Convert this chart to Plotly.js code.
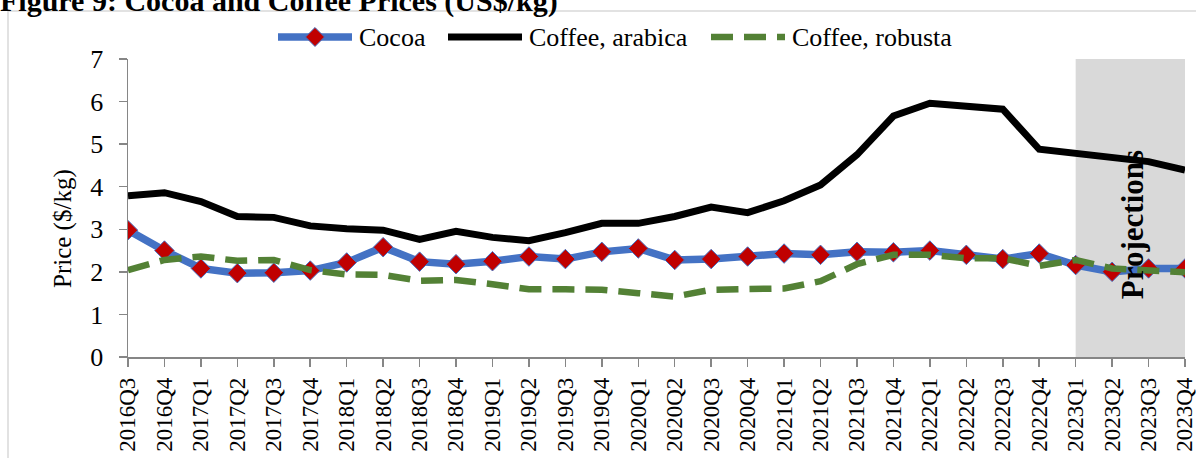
<!DOCTYPE html>
<html>
<head>
<meta charset="utf-8">
<script src="https://cdn.plot.ly/plotly-3.0.1.min.js"></script>
<style>
  html, body { margin: 0; padding: 0; background: #ffffff; overflow: hidden; }
  #chart { width: 1196px; height: 458px; }
</style>
</head>
<body>
<div id="chart"></div>
<script>
// Quarterly prices, US$ per kg
const quarters = [
  '2016Q3','2016Q4',
  '2017Q1','2017Q2','2017Q3','2017Q4',
  '2018Q1','2018Q2','2018Q3','2018Q4',
  '2019Q1','2019Q2','2019Q3','2019Q4',
  '2020Q1','2020Q2','2020Q3','2020Q4',
  '2021Q1','2021Q2','2021Q3','2021Q4',
  '2022Q1','2022Q2','2022Q3','2022Q4',
  '2023Q1','2023Q2','2023Q3','2023Q4'
];

const cocoa = [
  2.98, 2.50,
  2.08, 1.97, 1.98, 2.03,
  2.22, 2.58, 2.24, 2.18,
  2.25, 2.36, 2.30, 2.47,
  2.55, 2.28, 2.30, 2.36,
  2.43, 2.40, 2.47, 2.46,
  2.50, 2.40, 2.30, 2.43,
  2.16, 2.00, 2.08, 2.08
];

const arabica = [
  3.79, 3.86,
  3.65, 3.30, 3.28, 3.08,
  3.01, 2.98, 2.76, 2.95,
  2.81, 2.73, 2.92, 3.14,
  3.14, 3.30, 3.52, 3.39,
  3.67, 4.04, 4.75, 5.66,
  5.96, 5.88, 5.82, 4.88,
  4.78, 4.67, 4.59, 4.39
];

const robusta = [
  2.04, 2.28,
  2.36, 2.26, 2.28, 2.04,
  1.94, 1.93, 1.79, 1.81,
  1.71, 1.59, 1.59, 1.58,
  1.50, 1.42, 1.58, 1.58,
  1.61, 1.78, 2.18, 2.40,
  2.40, 2.32, 2.32, 2.14,
  2.28, 2.08, 2.02, 1.99
];

const seriesNames = ['Cocoa', 'Coffee, arabica', 'Coffee, robusta'];
const projectionStart = '2023Q1';
const projectionLabel = 'Projections';
const chartTitle = 'Figure 9: Cocoa and Coffee Prices (US$/kg)';
const yTitle = 'Price ($/kg)';

const FONT = 'Liberation Serif, Times New Roman, serif';
const BLUE = '#4472c4';
const RED = '#c00000';
const GREEN = '#538135';
const AXIS = '#868686';

// Plot-area geometry in pixels
const W = 1196, H = 458;
const M = { l: 128, r: 11, t: 59, b: 101 };
const PW = W - M.l - M.r, PH = H - M.t - M.b;
const px = x => (x - M.l) / PW;          // pixel x -> paper x
const py = y => (H - M.b - y) / PH;      // pixel y -> paper y

const traces = [
  {
    x: quarters, y: cocoa, name: seriesNames[0], type: 'scatter', mode: 'lines+markers',
    line: { color: BLUE, width: 7.5 },
    marker: { symbol: 'diamond', size: 15, color: RED, line: { color: BLUE, width: 1 } },
    showlegend: false
  },
  {
    x: quarters, y: arabica, name: seriesNames[1], type: 'scatter', mode: 'lines',
    line: { color: '#000000', width: 7 },
    showlegend: false
  },
  {
    x: quarters, y: robusta, name: seriesNames[2], type: 'scatter', mode: 'lines',
    line: { color: GREEN, width: 6.5, dash: '22px,11px' },
    showlegend: false
  }
];

const pStart = quarters.indexOf(projectionStart);
const pEnd = quarters.length - 1;

// Legend row drawn by hand: long line samples followed by labels
const legendY = py(37);
const legendItems = [
  { x0: 278, x1: 352, tx: 357, color: BLUE, dash: 'solid', width: 7.5 },
  { x0: 448, x1: 522, tx: 527, color: '#000000', dash: 'solid', width: 7 },
  { x0: 711, x1: 785, tx: 790, color: GREEN, dash: '22px,11px', width: 6.5 }
];

const shapes = [
  // outer frame
  { type: 'rect', xref: 'paper', yref: 'paper', layer: 'below',
    x0: px(8), x1: px(1200), y0: py(475), y1: py(11),
    line: { color: '#d9d9d9', width: 1.5 }, fillcolor: 'rgba(0,0,0,0)' },
  // projection band
  { type: 'rect', xref: 'x', yref: 'paper', layer: 'below',
    x0: pStart, x1: pEnd, y0: 0, y1: 1,
    line: { width: 0 }, fillcolor: '#d9d9d9' }
];

legendItems.forEach(it => {
  shapes.push({ type: 'line', xref: 'paper', yref: 'paper',
    x0: px(it.x0), x1: px(it.x1), y0: legendY, y1: legendY,
    line: { color: it.color, width: it.width, dash: it.dash } });
});

// diamond marker sample on the cocoa legend line
(function () {
  const cx = 315, cy = 37, r = 9.5;
  const pts = [[cx, cy - r], [cx + r, cy], [cx, cy + r], [cx - r, cy]]
    .map(p => px(p[0]).toFixed(5) + ',' + py(p[1]).toFixed(5));
  shapes.push({ type: 'path', xref: 'paper', yref: 'paper',
    path: 'M' + pts.join('L') + 'Z',
    fillcolor: RED, line: { color: BLUE, width: 1 } });
})();

const annotations = legendItems.map((it, i) => ({
  xref: 'paper', yref: 'paper', x: px(it.tx), y: legendY,
  xanchor: 'left', yanchor: 'middle', showarrow: false,
  text: seriesNames[i], font: { family: FONT, size: 26, color: '#000000' }
}));

// band label
annotations.push({
  xref: 'x', yref: 'paper', x: (pStart + pEnd) / 2 + 0.05, y: py(225),
  xanchor: 'center', yanchor: 'middle', showarrow: false, textangle: -90,
  text: '<b>' + projectionLabel + '</b>',
  font: { family: FONT, size: 31, color: '#000000' }
});

// y-axis title
annotations.push({
  xref: 'paper', yref: 'paper', x: px(63), y: py(229),
  xanchor: 'center', yanchor: 'middle', showarrow: false, textangle: -90,
  text: yTitle, font: { family: FONT, size: 25, color: '#000000' }
});

const layout = {
  width: W, height: H,
  margin: M,
  paper_bgcolor: '#ffffff', plot_bgcolor: 'rgba(0,0,0,0)',
  showlegend: false,
  title: {
    text: '<b>' + chartTitle + '</b>',
    font: { family: FONT, size: 30, color: '#000000' },
    xref: 'container', yref: 'container', x: 0, xanchor: 'left',
    y: 1.0, yanchor: 'middle', pad: { t: 0, b: 0, l: 0, r: 0 }
  },
  xaxis: {
    type: 'category', range: [0, quarters.length - 1],
    showgrid: false, zeroline: false,
    showline: true, linecolor: AXIS, linewidth: 1.5,
    ticks: 'outside', ticklen: 8, tickcolor: AXIS, tickwidth: 1.5,
    tickangle: -90, ticklabelstandoff: 2,
    tickfont: { family: FONT, size: 23, color: '#000000' }
  },
  yaxis: {
    range: [0, 7], dtick: 1, tick0: 0,
    showgrid: false, zeroline: false,
    showline: true, linecolor: AXIS, linewidth: 1.5,
    ticks: 'outside', ticklen: 8, tickcolor: AXIS, tickwidth: 1.5,
    ticklabelstandoff: 10,
    tickfont: { family: FONT, size: 26, color: '#000000' }
  },
  shapes: shapes,
  annotations: annotations
};

Plotly.newPlot('chart', traces, layout, { displayModeBar: false, staticPlot: true });
</script>
</body>
</html>
